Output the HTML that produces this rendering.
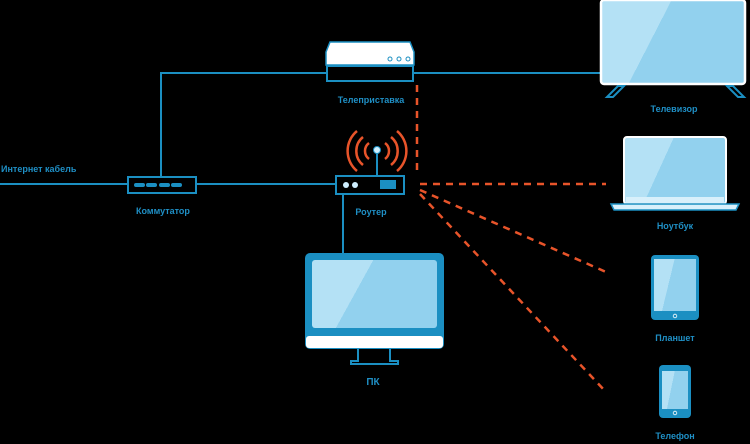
<!DOCTYPE html>
<html><head><meta charset="utf-8"><style>
html,body{margin:0;padding:0;background:#000;width:750px;height:444px;overflow:hidden}
text{font-family:"Liberation Sans",sans-serif;font-size:9px;font-weight:bold;fill:#1f8fc5}
</style></head><body>
<svg width="750" height="444" viewBox="0 0 750 444" xmlns="http://www.w3.org/2000/svg">
<defs>
<linearGradient id="scr" x1="0" y1="0" x2="1" y2="0.3">
<stop offset="0.45" stop-color="#b4e1f5"/><stop offset="0.45" stop-color="#92d1ee"/>
</linearGradient>
</defs>
<g stroke="#1b8fc2" stroke-width="2" fill="none">
<line x1="0" y1="184" x2="335" y2="184"/>
<line x1="161" y1="73" x2="161" y2="177"/>
<line x1="160" y1="73" x2="600" y2="73"/>
<line x1="343" y1="194" x2="343" y2="254"/>
<line x1="377" y1="152" x2="377" y2="175"/>
</g>
<!-- dashed -->
<g stroke="#e8542a" stroke-width="2.5" fill="none" stroke-dasharray="7,6">
<line x1="417" y1="85" x2="417" y2="175"/>
<line x1="420" y1="184" x2="606" y2="184"/>
<line x1="420" y1="190" x2="606" y2="272"/>
<line x1="420" y1="194" x2="606" y2="392"/>
</g>
<!-- set-top box -->
<path d="M330 42 L410 42 L414 52 L414 65 L326 65 L326 52 Z" fill="#fff" stroke="#1b8fc2" stroke-width="1.5"/>
<circle cx="390" cy="59" r="2" fill="none" stroke="#1b8fc2"/><circle cx="399" cy="59" r="2" fill="none" stroke="#1b8fc2"/><circle cx="408" cy="59" r="2" fill="none" stroke="#1b8fc2"/>
<rect x="327" y="66" width="86" height="15" fill="#000" stroke="#1b8fc2" stroke-width="2"/>
<text x="371" y="103" text-anchor="middle">Телеприставка</text>
<!-- router waves -->
<g stroke="#e8542a" stroke-width="2.5" fill="none">
<path d="M369 143 A10 10 0 0 0 369 159"/><path d="M385 143 A10 10 0 0 1 385 159"/>
<path d="M363 137 A18 18 0 0 0 363 165"/><path d="M391 137 A18 18 0 0 1 391 165"/>
<path d="M357 131 A26 26 0 0 0 357 171"/><path d="M397 131 A26 26 0 0 1 397 171"/>
</g>
<circle cx="377" cy="150" r="3.5" fill="#cfefff" stroke="#1b8fc2"/>
<rect x="336" y="176" width="68" height="18" fill="#000" stroke="#1b8fc2" stroke-width="2"/>
<circle cx="346" cy="185" r="3" fill="#cfefff"/><circle cx="355" cy="185" r="3" fill="#cfefff"/>
<rect x="380" y="180" width="16" height="9" fill="#1b8fc2"/>
<text x="371" y="215" text-anchor="middle">Роутер</text>
<!-- switch -->
<rect x="128" y="177" width="68" height="16" fill="#000" stroke="#1b8fc2" stroke-width="2"/>
<g fill="#1b8fc2"><rect x="134" y="183" width="11" height="4" rx="2"/><rect x="146" y="183" width="11" height="4" rx="2"/><rect x="159" y="183" width="11" height="4" rx="2"/><rect x="171" y="183" width="11" height="4" rx="2"/></g>
<text x="163" y="214" text-anchor="middle">Коммутатор</text>
<text x="1" y="172">Интернет кабель</text>
<!-- PC -->
<rect x="305" y="253" width="139" height="96" rx="5" fill="#1b8fc2"/>
<rect x="312" y="260" width="125" height="68" rx="3" fill="url(#scr)"/>
<rect x="306" y="336" width="137" height="12" rx="3" fill="#fff"/>
<path d="M358 349 L358 361 L351 361 L351 364 L398 364 L398 361 L390 361 L390 349" fill="none" stroke="#1b8fc2" stroke-width="2"/>
<text x="373" y="385" text-anchor="middle" style="font-size:10px">ПК</text>
<!-- TV -->
<rect x="601" y="0" width="144" height="84" rx="3" fill="url(#scr)" stroke="#fff" stroke-width="2.5"/>
<path d="M618 86 L607 97 L613 97 L624 86 Z M727 86 L738 97 L744 97 L733 86 Z" fill="none" stroke="#1b8fc2" stroke-width="2"/>
<text x="674" y="112" text-anchor="middle">Телевизор</text>
<!-- laptop -->
<rect x="624" y="137" width="102" height="67" rx="3" fill="url(#scr)" stroke="#fff" stroke-width="2"/>
<rect x="626" y="197" width="98" height="6" fill="#d8f0fb"/>
<path d="M611 204 L739 204 L736 210 L614 210 Z" fill="#d8f0fb" stroke="#1b8fc2" stroke-width="1.5"/>
<text x="675" y="229" text-anchor="middle">Ноутбук</text>
<!-- tablet -->
<rect x="651" y="255" width="48" height="65" rx="4" fill="#1b8fc2"/>
<rect x="654" y="259" width="42" height="52" fill="url(#scr)"/>
<circle cx="675" cy="316" r="1.8" fill="none" stroke="#fff" stroke-width="0.8"/>
<text x="675" y="341" text-anchor="middle">Планшет</text>
<!-- phone -->
<rect x="659" y="365" width="32" height="53" rx="4" fill="#1b8fc2"/>
<rect x="662" y="371" width="26" height="38" fill="url(#scr)"/>
<circle cx="675" cy="413" r="1.8" fill="none" stroke="#fff" stroke-width="0.8"/>
<text x="675" y="439" text-anchor="middle">Телефон</text>
</svg>
</body></html>
